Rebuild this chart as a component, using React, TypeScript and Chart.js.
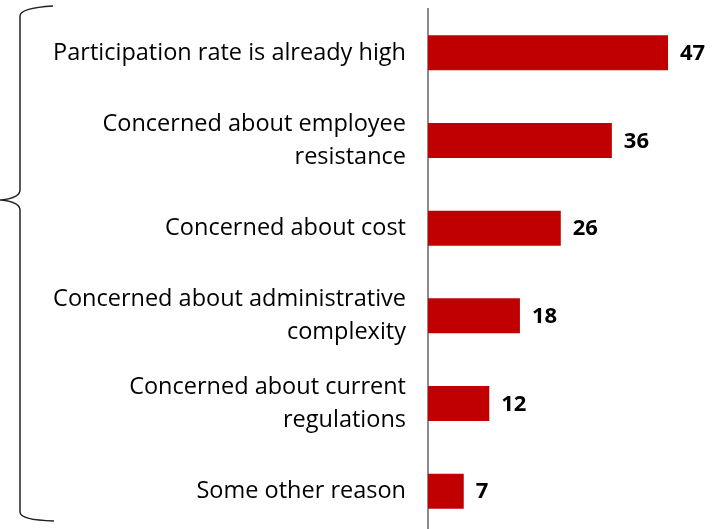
import React, { useEffect, useRef } from "react";
import { Chart, registerables } from "chart.js";

Chart.register(...registerables);

const categories: (string | string[])[] = [
  "Participation rate is already high",
  ["Concerned about employee", "resistance"],
  "Concerned about cost",
  ["Concerned about administrative", "complexity"],
  ["Concerned about current", "regulations"],
  "Some other reason",
];
const values: number[] = [47, 36, 26, 18, 12, 7];

const FONT = "'Open Sans', Lato, sans-serif";

const bracePlugin = {
  id: "brace",
  afterDraw(chart: any) {
    const ctx = chart.ctx;
    ctx.save();
    ctx.strokeStyle = "#222";
    ctx.lineWidth = 1.5;
    ctx.beginPath();
    ctx.moveTo(53, 6);
    ctx.quadraticCurveTo(20, 8, 20, 16);
    ctx.lineTo(20, 190);
    ctx.quadraticCurveTo(20, 198, 1, 200);
    ctx.quadraticCurveTo(20, 202, 20, 210);
    ctx.lineTo(20, 512);
    ctx.quadraticCurveTo(20, 520, 54, 521);
    ctx.stroke();
    ctx.restore();
  },
};

const valueLabelPlugin = {
  id: "valueLabels",
  afterDatasetsDraw(chart: any) {
    const ctx = chart.ctx;
    const meta = chart.getDatasetMeta(0);
    ctx.save();
    ctx.fillStyle = "#000";
    ctx.font = `bold 22px ${FONT}`;
    ctx.textAlign = "left";
    ctx.textBaseline = "middle";
    meta.data.forEach((bar: any, i: number) => {
      ctx.fillText(String(values[i]), bar.x + 12, bar.y + 1);
    });
    ctx.restore();
  },
};

export default function App() {
  const ref = useRef<HTMLCanvasElement>(null);
  useEffect(() => {
    const chart = new Chart(ref.current!, {
      type: "bar",
      data: {
        labels: categories,
        datasets: [
          {
            data: values,
            backgroundColor: "#C00000",
            borderWidth: 0,
            barPercentage: 0.4,
            categoryPercentage: 1,
          },
        ],
      },
      options: {
        indexAxis: "y",
        responsive: false,
        animation: false,
        layout: { padding: { top: 9, right: 4, left: 0, bottom: 0 } },
        plugins: { legend: { display: false }, tooltip: { enabled: false } },
        scales: {
          x: {
            min: 0,
            max: 56,
            display: false,
          },
          y: {
            grid: { display: false, drawTicks: false },
            border: { display: true, color: "#8c8c8c", width: 2 },
            ticks: {
              color: "#000",
              padding: 22,
              font: { family: FONT, size: 23.5, lineHeight: "33px" },
            },
            afterFit(scale: any) {
              scale.width = 428;
              scale.paddingTop = 0;
              scale.paddingBottom = 0;
            },
          },
        },
      },
      plugins: [bracePlugin, valueLabelPlugin],
    });
    return () => chart.destroy();
  }, []);
  return (
    <div
      style={{
        position: "fixed",
        left: 0,
        top: 0,
        width: 718,
        height: 529,
        overflow: "hidden",
        background: "#fff",
      }}
    >
      <canvas ref={ref} width={718} height={535} style={{ display: "block" }} />
    </div>
  );
}
